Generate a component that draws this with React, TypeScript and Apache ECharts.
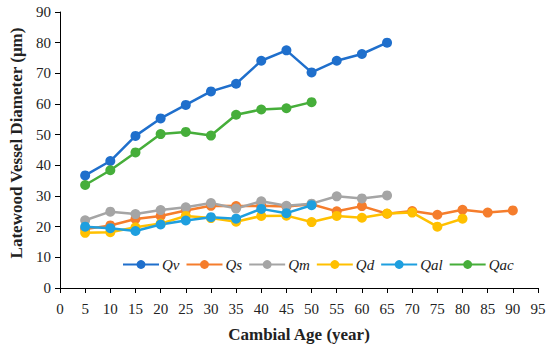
import React, { useEffect, useRef } from "react";
import * as echarts from "echarts";

const ages = [5, 10, 15, 20, 25, 30, 35, 40, 45, 50, 55, 60, 65, 70, 75, 80, 85, 90];
const seriesNames = ["Qv", "Qs", "Qm", "Qd", "Qal", "Qac"];
const qv = [36.7, 41.4, 49.6, 55.3, 59.7, 64.1, 66.6, 74.1, 77.5, 70.3, 74.1, 76.3, 80.0];
const qs = [19.2, 20.4, 22.5, 23.5, 25.3, 26.8, 26.7, 26.8, 26.6, 27.3, 25.0, 26.7, 24.2, 25.1, 23.9, 25.5, 24.6, 25.3];
const qm = [22.1, 24.9, 24.1, 25.4, 26.3, 27.7, 25.9, 28.3, 26.8, 27.5, 29.9, 29.2, 30.2];
const qd = [18.0, 18.2, 19.8, 21.0, 23.5, 22.8, 21.6, 23.5, 23.6, 21.5, 23.5, 22.9, 24.3, 24.6, 20.0, 22.6];
const qal = [20.0, 19.5, 18.6, 20.7, 22.0, 23.1, 22.6, 25.8, 24.4, 27.0];
const qac = [33.6, 38.4, 44.2, 50.2, 50.9, 49.7, 56.5, 58.2, 58.6, 60.6];
const colors = ["#1F6FCC", "#F57D2C", "#A5A5A5", "#FFC000", "#1E9FDF", "#46AE3A"];
const xTicks = { min: 0, max: 95, interval: 5 };
const yTicks = { min: 0, max: 90, interval: 10 };

export default function App() {
  const ref = useRef<HTMLDivElement>(null);
  useEffect(() => {
    if (!ref.current) return;
    const chart = echarts.init(ref.current, null, { renderer: "svg" });
    const allValues = [qv, qs, qm, qd, qal, qac];
    const font = "'Liberation Serif', 'DejaVu Serif', serif";
    chart.setOption({
      animation: false,
      color: colors,
      textStyle: { fontFamily: font },
      grid: { left: 56, right: 12, top: 12, bottom: 59, containLabel: false },
      legend: {
        left: 117,
        top: 252,
        width: 430,
        itemWidth: 36,
        itemHeight: 11,
        itemGap: 6,
        textStyle: { fontFamily: font, fontStyle: "italic", fontSize: 15, color: "#222", padding: [0, 0, 0, -2] },
        data: seriesNames,
      },
      xAxis: {
        type: "value",
        min: xTicks.min,
        max: xTicks.max,
        interval: xTicks.interval,
        name: "Cambial Age (year)",
        nameLocation: "middle",
        nameGap: 38,
        nameTextStyle: { fontFamily: font, fontWeight: "bold", fontSize: 17, color: "#222" },
        axisLine: { lineStyle: { color: "#000", width: 1 } },
        axisTick: { show: true, length: 5, lineStyle: { color: "#000" } },
        axisLabel: { fontFamily: font, fontSize: 15, color: "#222", margin: 13 },
        splitLine: { show: false },
      },
      yAxis: {
        type: "value",
        min: yTicks.min,
        max: yTicks.max,
        interval: yTicks.interval,
        name: "Latewood Vessel Diameter (μm)",
        nameLocation: "middle",
        nameGap: 35,
        nameTextStyle: { fontFamily: font, fontWeight: "bold", fontSize: 17, color: "#222", padding: [0, 0, 0, 14] },
        axisLine: { show: true, lineStyle: { color: "#000", width: 1 } },
        axisTick: { show: true, length: 5, lineStyle: { color: "#000" } },
        axisLabel: { fontFamily: font, fontSize: 15, color: "#222", margin: 9 },
        splitLine: { show: false },
      },
      series: seriesNames.map((name, i) => ({
        name,
        type: "line",
        symbol: "circle",
        symbolSize: 10,
        lineStyle: { width: 2.5, color: colors[i] },
        itemStyle: { color: colors[i] },
        data: allValues[i].map((v, j) => [ages[j], v]),
      })),
    });
    return () => chart.dispose();
  }, []);
  return <div ref={ref} style={{ width: 550, height: 348, position: "absolute", left: 0, top: 0 }} />;
}
